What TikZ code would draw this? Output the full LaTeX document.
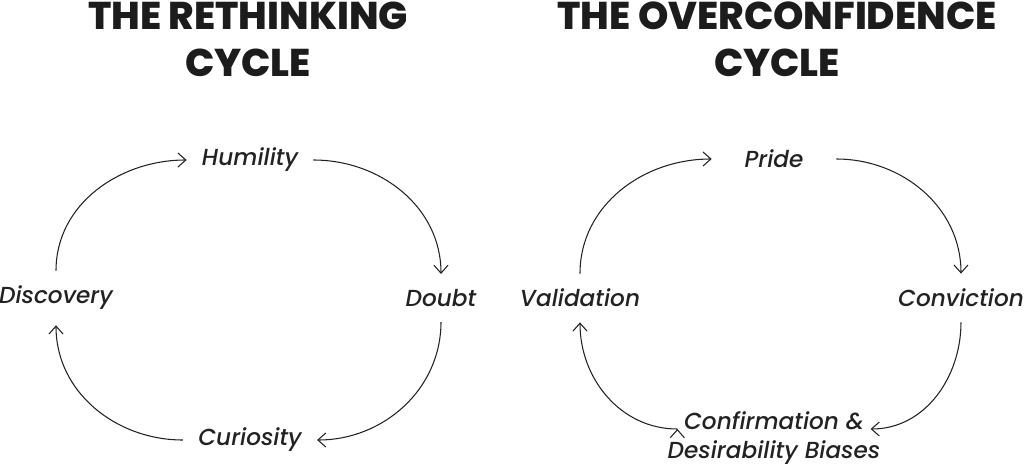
\documentclass[tikz,border=0pt]{standalone}
\usepackage{fontspec}
\setmainfont{Poppins}[ItalicFont={Poppins Medium Italic}]
\newfontfamily\titlefont{Poppins ExtraBold}
\usetikzlibrary{positioning, arrows.meta}

\definecolor{ink}{HTML}{222222}
\definecolor{heading}{HTML}{1C1C1C}

\tikzset{
    stage/.style={font=\itshape\fontsize{13.2}{16.5}\selectfont, text=ink, inner sep=0.3cm},
    cycletitle/.style={font=\titlefont\fontsize{22}{26.7}\selectfont, text=heading, align=center},
    flow/.style={-{Straight Barb[length=4.5pt,width=8pt]}, draw=ink, line width=0.6pt}
}

\begin{document}
\begin{tikzpicture}[on grid]
        \useasboundingbox (0,0) rectangle (20.48,9.34);
        % rethinking cycle
        \node[cycletitle] (rethink) at (4.96,8.55) {THE RETHINKING\\CYCLE};
        \node[stage] (humility) at (5.00,6.14) {Humility};
        \node[stage] (discovery) [below left=2.76cm and 3.88cm of humility] {Discovery};
        \node[stage] (doubt) [below right=2.76cm and 3.82cm of humility] {Doubt};
        \node[stage] (curiosity) [below=5.60cm of humility] {Curiosity};
        \path[flow]
                (discovery) edge [out=90, in=180] (humility)
                (humility) edge [out=0, in=90] (doubt)
                (doubt) edge [out=-90, in=0] (curiosity)
                (curiosity) edge [out=180, in=-90] (discovery);
        % overconfidence cycle
        \node[cycletitle] (overconf) at (15.54,8.55) {THE OVERCONFIDENCE\\CYCLE};
        \node[stage, inner xsep=0.65cm] (pride) at (15.48,6.16) {Pride};
        \node[stage] (validation) [below left=2.78cm and 3.88cm of pride] {Validation};
        \node[stage] (conviction) [below right=2.78cm and 3.74cm of pride] {Conviction};
        \node[stage, align=center, inner xsep=-0.2cm] (biases) [below=5.58cm of pride] {Confirmation \&\\Desirability Biases};
        \path[flow]
                (validation) edge [out=90, in=180] (pride)
                (pride) edge [out=0, in=90] (conviction)
                (conviction) edge [out=-90, in=0] ([yshift=0.18cm]biases.east)
                ([yshift=0.18cm]biases.west) edge [out=180, in=-90] (validation);
\end{tikzpicture}
\end{document}
